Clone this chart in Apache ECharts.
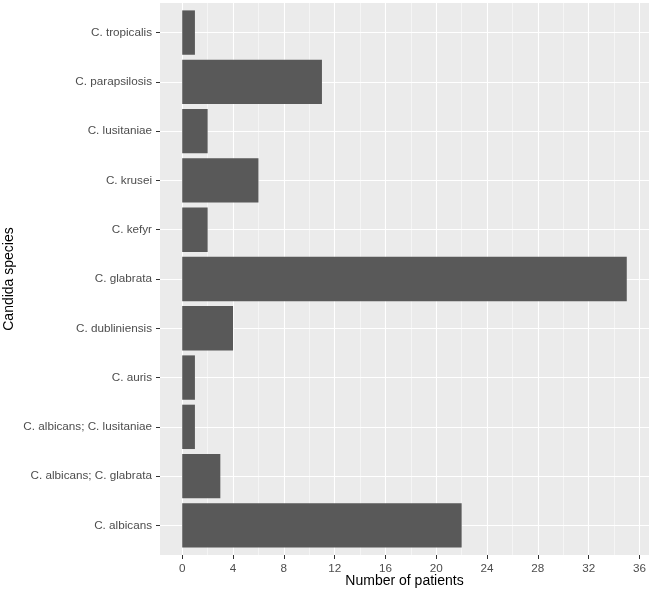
<!DOCTYPE html>
<html>
<head>
<meta charset="utf-8">
<script src="https://cdn.jsdelivr.net/npm/echarts@6/dist/echarts.min.js"></script>
<style>
  html, body { margin: 0; padding: 0; background: #fff; }
  #chart { width: 650px; height: 592px; }
</style>
</head>
<body>
<div id="chart"></div>
<script>
// categories from bottom to top, like the ggplot axis
var species = ['C. albicans', 'C. albicans; C. glabrata', 'C. albicans; C. lusitaniae', 'C. auris',
  'C. dubliniensis', 'C. glabrata', 'C. kefyr', 'C. krusei', 'C. lusitaniae', 'C. parapsilosis', 'C. tropicalis']
var patients = [22, 3, 1, 1, 4, 35, 2, 6, 2, 11, 1]
var majorTicks = [0, 4, 8, 12, 16, 20, 24, 28, 32, 36]
var minorTicks = [2, 6, 10, 14, 18, 22, 26, 30, 34]

var chart = echarts.init(document.getElementById('chart'))

var rows = patients.map(function (v, i) { return [v, i] })
var catIdx = species.map(function (s, i) { return i })

var labelFont = 'Liberation Sans, Arial, sans-serif'

var option = {
  animation: false,
  backgroundColor: '#fff',
  grid: {
    left: 160, right: 1, top: 3, bottom: 37,
    outerBoundsMode: 'none',
    containLabel: false,
    show: true, backgroundColor: '#EBEBEB', borderWidth: 0
  },
  xAxis: [
    {
      type: 'value',
      min: -1.75, max: 36.75,
      position: 'bottom',
      axisLine: { show: false, onZero: false },
      axisTick: { show: true, customValues: majorTicks, length: 4, lineStyle: { color: '#333', width: 1 } },
      axisLabel: { customValues: majorTicks, color: '#4D4D4D', fontSize: 11.7, fontFamily: labelFont, margin: 8 },
      splitLine: { show: true, lineStyle: { color: '#fff', width: 1.1 } },
      name: 'Number of patients',
      nameLocation: 'middle',
      nameMoveOverlap: false,
      nameGap: 19,
      nameTextStyle: { color: '#000', fontSize: 14, fontFamily: labelFont }
    },
    {
      // minor grid lines only
      type: 'value',
      min: -1.75, max: 36.75,
      position: 'top',
      axisLine: { show: false, onZero: false },
      axisTick: { show: false, customValues: minorTicks },
      axisLabel: { show: false, customValues: minorTicks },
      splitLine: { show: true, lineStyle: { color: '#fff', width: 0.5 } }
    }
  ],
  yAxis: {
    type: 'value',
    min: -0.6, max: 10.6,
    axisLine: { show: false, onZero: false },
    axisTick: { show: true, customValues: catIdx, length: 4, lineStyle: { color: '#333', width: 1 } },
    axisLabel: {
      customValues: catIdx,
      color: '#4D4D4D', fontSize: 11.7, fontFamily: labelFont, margin: 8,
      formatter: function (v) { return species[Math.round(v)] }
    },
    splitLine: { show: true, lineStyle: { color: '#fff', width: 1.1 } },
    name: 'Candida species',
    nameLocation: 'middle',
    nameMoveOverlap: false,
    nameRotate: 90,
    nameGap: 144,
    nameTextStyle: { color: '#000', fontSize: 14, fontFamily: labelFont }
  },
  series: [{
    type: 'custom',
    xAxisIndex: 0,
    data: rows,
    encode: { x: 0, y: 1 },
    renderItem: function (params, api) {
      var y = api.value(1)
      var a = api.coord([0, y])
      var b = api.coord([api.value(0), y])
      var h = api.size([0, 0.9])[1]
      return {
        type: 'rect',
        shape: { x: a[0], y: a[1] - h / 2, width: b[0] - a[0], height: h },
        style: { fill: '#595959' }
      }
    }
  }]
}

chart.setOption(option)
</script>
</body>
</html>
